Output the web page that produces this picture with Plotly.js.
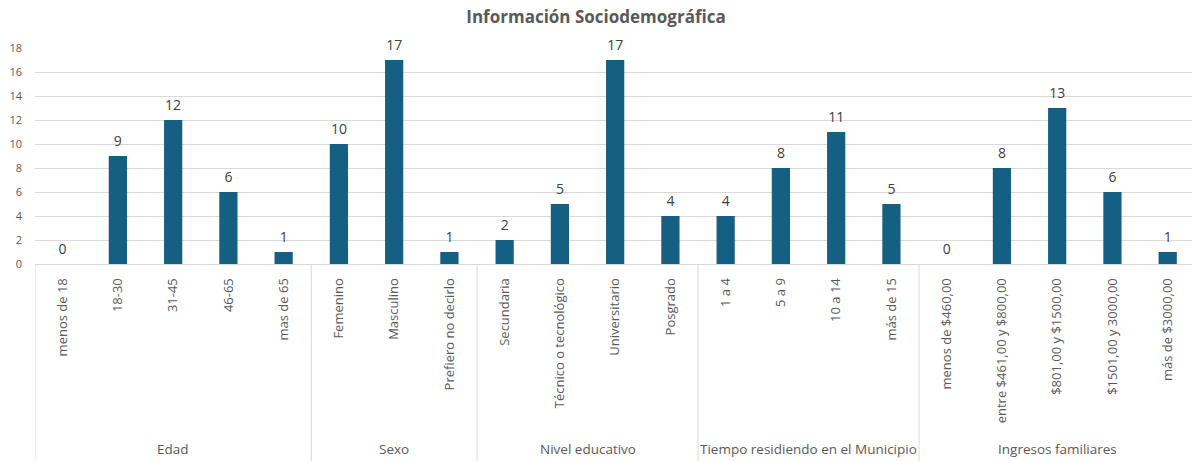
<!DOCTYPE html>
<html>
<head>
<meta charset="utf-8">
<script src="https://cdn.plot.ly/plotly-3.0.1.min.js"></script>
<style>html,body{margin:0;padding:0;background:#fff;}#chart{width:1192px;height:461px;}</style>
</head>
<body>
<div id="chart"></div>
<script>
const groups = ["Edad", "Sexo", "Nivel educativo", "Tiempo residiendo en el Municipio", "Ingresos familiares"];
const categories = [
  ["menos de 18", "18-30", "31-45", "46-65", "mas de 65"],
  ["Femenino", "Masculino", "Prefiero no decirlo"],
  ["Secundaria", "Técnico o tecnológico", "Universitario", "Posgrado"],
  ["1 a 4", "5 a 9", "10 a 14", "más de 15"],
  ["menos de $460,00", "entre $461,00 y $800,00", "$801,00 y $1500,00", "$1501,00 y 3000,00", "más de $3000,00"]
];
const values = [
  [0, 9, 12, 6, 1],
  [10, 17, 1],
  [2, 5, 17, 4],
  [4, 8, 11, 5],
  [0, 8, 13, 6, 1]
];

const labels = categories.flat();
const vals = values.flat();
const idx = labels.map((_, i) => i);

const gridColor = "#d9d9d9";
const textColor = "#595959";
const fontFam = "'Open Sans', 'Liberation Sans', sans-serif";

const plotTop = 48, plotBottom = 264, H = 461;
const plotH = plotBottom - plotTop;
const pY = px => (plotBottom - px) / plotH;

const shapes = [];
const annotations = [];
let start = 0;
groups.forEach((g, gi) => {
  const n = categories[gi].length;
  shapes.push({type: "line", xref: "x", yref: "paper", x0: start - 0.5, x1: start - 0.5,
    y0: 0, y1: pY(H), line: {color: gridColor, width: 1}});
  annotations.push({xref: "x", yref: "paper", x: start + (n - 1) / 2, y: pY(449),
    text: g, showarrow: false, font: {family: fontFam, size: 13.5, color: textColor},
    xanchor: "center", yanchor: "middle"});
  start += n;
});
shapes.push({type: "line", xref: "x", yref: "paper", x0: start - 0.5, x1: start - 0.5,
  y0: 0, y1: pY(H), line: {color: gridColor, width: 1}});

const traces = [
  {type: "bar", x: idx, y: vals, marker: {color: "#156082"}, hoverinfo: "y", width: 0.33},
  {type: "scatter", mode: "markers+text", x: idx, y: vals, text: vals.map(String),
   marker: {size: 9, opacity: 0},
   textposition: "top center", textfont: {family: fontFam, size: 14, color: "#404040"},
   cliponaxis: false, hoverinfo: "skip"}
];

const layout = {
  width: 1192, height: 461,
  margin: {l: 35, r: 0, t: plotTop, b: H - plotBottom},
  paper_bgcolor: "#fff", plot_bgcolor: "#fff",
  showlegend: false,
  title: {text: "<b>Información Sociodemográfica</b>", x: 0.5, xanchor: "center", y: 1 - 17 / H, yanchor: "middle",
    font: {family: fontFam, size: 17, color: textColor}},
  xaxis: {type: "linear", range: [-0.5, 20.44], tickvals: idx, ticktext: labels, tickangle: -90,
    showgrid: false, zeroline: false, showline: true, linecolor: gridColor, linewidth: 1,
    ticks: "", ticklabelstandoff: 8, tickfont: {family: fontFam, size: 13, color: textColor}, fixedrange: true},
  yaxis: {range: [0, 18], dtick: 2, showgrid: true, gridcolor: gridColor, gridwidth: 1,
    zeroline: false, showline: false, ticks: "", ticklabelstandoff: 12,
    tickfont: {family: fontFam, size: 11, color: textColor}, fixedrange: true},
  shapes: shapes,
  annotations: annotations
};

Plotly.newPlot("chart", traces, layout, {displayModeBar: false, staticPlot: true});
</script>
</body>
</html>
